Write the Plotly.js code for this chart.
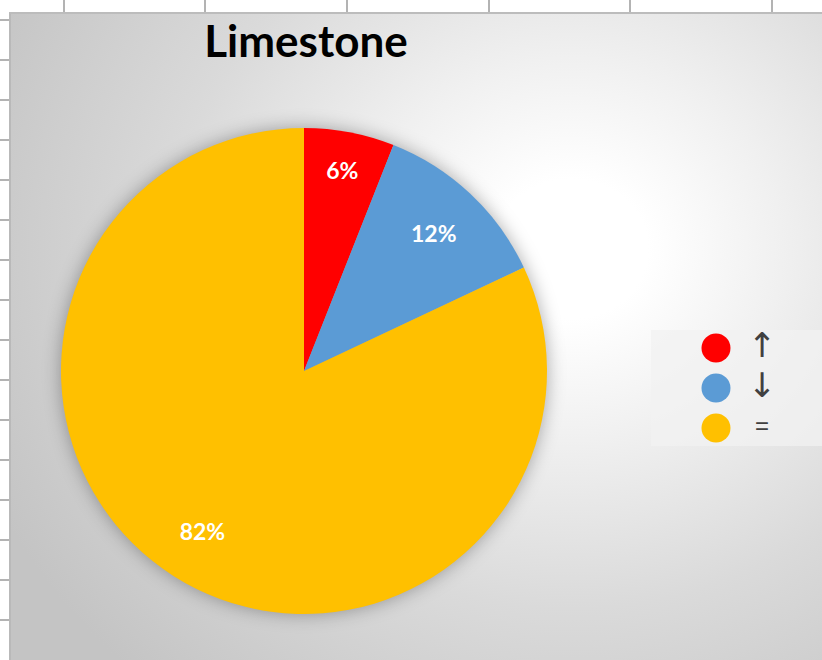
<!DOCTYPE html>
<html>
<head>
<meta charset="utf-8">
<script src="https://cdn.plot.ly/plotly-3.0.1.min.js"></script>
<style>
  html, body { margin: 0; padding: 0; background: #ffffff; overflow: hidden; }
  #wrap { position: relative; width: 822px; height: 660px; }
  .gl { position: absolute; background: #b3b3b3; }
  #area {
    position: absolute; left: 9px; top: 12px; width: 813px; height: 648px;
    box-sizing: border-box;
    border-left: 2px solid #b9b9b9; border-top: 2px solid #bcbcbc;
    background: radial-gradient(ellipse 640px 580px at 560px 235px,
      #ffffff 0%, #ffffff 12%, #f0f0f0 33%, #dadada 62%, #c4c4c4 100%);
  }
  #chart { position: absolute; left: 0; top: 0; width: 822px; height: 660px; }
  #chart .pielayer .trace:first-child { filter: blur(9px); }
</style>
</head>
<body>
<div id="wrap">
  <div id="area"></div>
  <div id="chart"></div>
</div>
<script>
// ---- data ----
const categories = ['↑', '↓', '='];
const shares = [6, 12, 82];
const sliceColors = ['#FF0000', '#5B9BD5', '#FFC000'];
const chartTitle = 'Limestone';

// ---- spreadsheet grid decoration ----
const wrap = document.getElementById('wrap');
[64, 205, 347, 489, 630, 772].forEach(x => {
  const d = document.createElement('div');
  d.className = 'gl';
  d.style.left = (x - 1) + 'px'; d.style.top = '0px';
  d.style.width = '2px'; d.style.height = '12px';
  wrap.insertBefore(d, wrap.firstChild);
});
for (let y = 20; y < 660; y += 40) {
  const d = document.createElement('div');
  d.className = 'gl';
  d.style.left = '0px'; d.style.top = (y - 1) + 'px';
  d.style.width = '9px'; d.style.height = '2px';
  wrap.insertBefore(d, wrap.firstChild);
}

// ---- chart ----
const W = 822, H = 660;
const pieDomain = { x: [61 / W, 547 / W], y: [1 - 614 / H, 1 - 128 / H] };

const shadow = {
  type: 'pie', values: [1], labels: ['shadow'], sort: false,
  marker: { colors: ['rgba(0,0,0,0.32)'] },
  textinfo: 'none', hoverinfo: 'skip', showlegend: false,
  domain: pieDomain
};

const pie = {
  type: 'pie',
  values: shares,
  labels: categories,
  sort: false,
  direction: 'clockwise',
  rotation: 0,
  marker: { colors: sliceColors, line: { width: 0 } },
  textinfo: 'none',
  hoverinfo: 'skip',
  showlegend: false,
  domain: pieDomain
};

// transparent ring on top carrying the data labels (places them at ~0.8 R, like Excel)
const labelRing = {
  type: 'pie',
  values: shares,
  labels: categories,
  sort: false,
  direction: 'clockwise',
  rotation: 0,
  hole: 0.56,
  marker: { colors: sliceColors.map(() => 'rgba(0,0,0,0)'), line: { width: 0 } },
  textinfo: 'percent',
  textposition: 'inside',
  insidetextorientation: 'horizontal',
  textfont: { family: 'Lato, Carlito, sans-serif', size: 23, color: '#ffffff', weight: 'bold' },
  hoverinfo: 'skip',
  showlegend: false,
  domain: pieDomain
};

const legendMarkers = {
  type: 'scatter', mode: 'markers',
  x: categories.map(() => 0),
  y: categories.map((_, i) => i),
  marker: { size: 29, color: sliceColors, line: { width: 0 } },
  hoverinfo: 'skip', showlegend: false, cliponaxis: false
};
const legendText = {
  type: 'scatter', mode: 'text',
  x: categories.map(() => 1),
  y: categories.map((_, i) => i),
  text: categories,
  textposition: 'middle center',
  textfont: {
    family: ['DejaVu Sans', 'DejaVu Sans', 'Liberation Sans'],
    size: [34, 34, 24],
    color: '#404040'
  },
  hoverinfo: 'skip', showlegend: false, cliponaxis: false
};

const layout = {
  width: W, height: H,
  margin: { l: 0, r: 0, t: 0, b: 0, pad: 0 },
  paper_bgcolor: 'rgba(0,0,0,0)',
  plot_bgcolor: 'rgba(242,242,242,0.75)',
  showlegend: false,
  title: {
    text: chartTitle,
    x: 306 / W, xanchor: 'center', xref: 'paper',
    y: 1 - 42 / H, yanchor: 'middle', yref: 'container',
    font: { family: 'Lato, Carlito, sans-serif', size: 44, color: '#000000', weight: 'bold' }
  },
  xaxis: {
    domain: [651 / W, 1], range: [-1.413, 2.304],
    visible: false, fixedrange: true, showgrid: false, zeroline: false
  },
  yaxis: {
    domain: [1 - 446 / H, 1 - 330 / H], range: [2.45, -0.45],
    visible: false, fixedrange: true, showgrid: false, zeroline: false
  }
};

Plotly.newPlot('chart', [shadow, pie, labelRing, legendMarkers, legendText], layout, { staticPlot: true, displayModeBar: false });
</script>
</body>
</html>
